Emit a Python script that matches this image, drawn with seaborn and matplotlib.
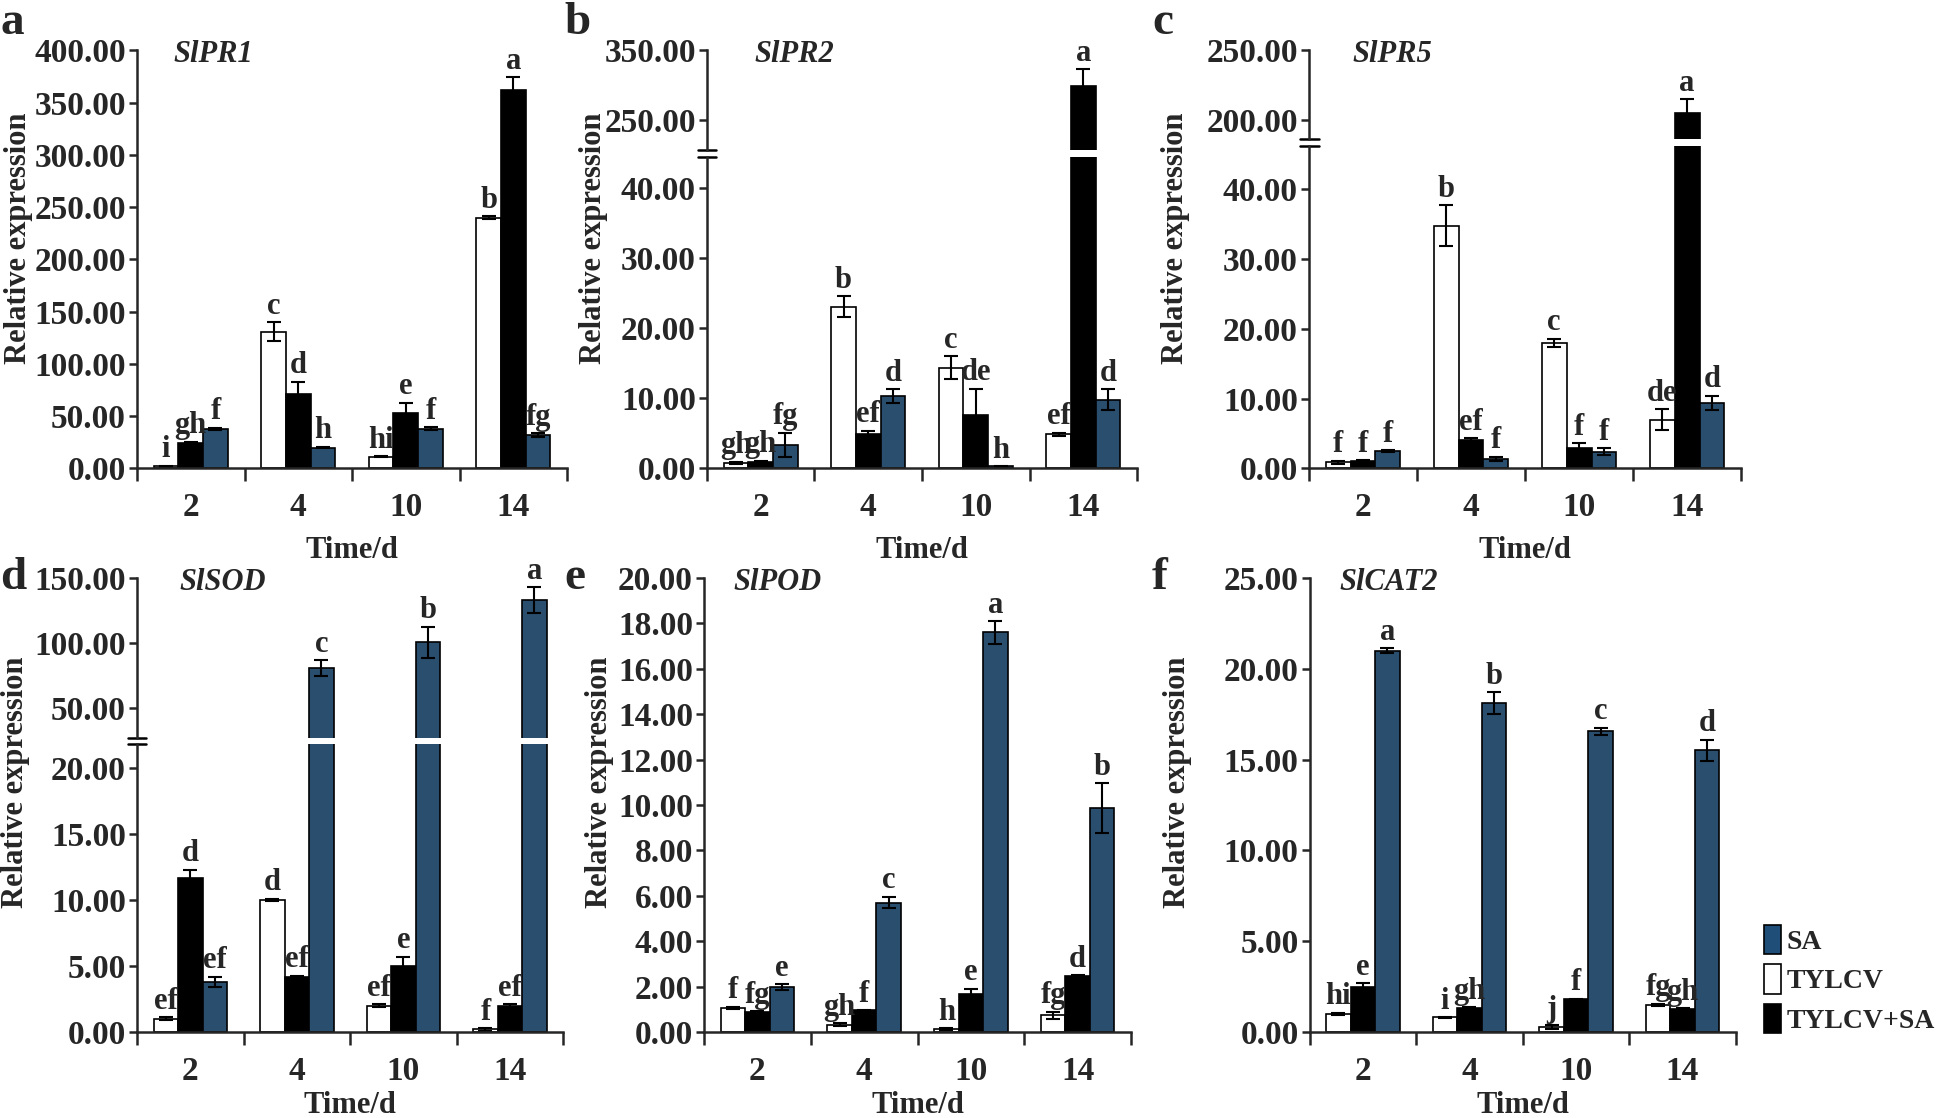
import numpy as np
import pandas as pd
import seaborn as sns
import matplotlib
matplotlib.use('Agg')
import matplotlib.pyplot as plt
from matplotlib.patches import Patch
from matplotlib.container import BarContainer

# groups and treatments
days = ['2', '4', '10', '14']
treatments = ['TYLCV', 'TYLCV+SA', 'SA']
colors = {'TYLCV': 'white', 'TYLCV+SA': 'black', 'SA': '#1F4E79'}

# values per gene: rows = TYLCV, TYLCV+SA, SA ; columns = days
pr1_mean = [[2.0, 131, 11, 240], [24, 71, 53, 362], [38, 20, 38, 32]]
pr1_err = [[0.5, 9, 0.5, 1.5], [1.5, 12, 10, 12], [1, 0.8, 1.2, 1.5]]
pr1_sig = [['i', 'c', 'hi', 'b'], ['gh', 'd', 'e', 'a'], ['f', 'h', 'f', 'fg']]

pr2_mean = [[0.8, 23.1, 14.4, 4.9], [0.9, 4.9, 7.6, 298], [3.4, 10.3, 0.3, 9.8]]
pr2_err = [[0.15, 1.5, 1.6, 0.2], [0.2, 0.5, 3.8, 25], [1.7, 1.0, 0.05, 1.5]]
pr2_sig = [['gh', 'b', 'c', 'ef'], ['gh', 'ef', 'de', 'a'], ['fg', 'd', 'h', 'd']]

pr5_mean = [[0.9, 34.8, 18.0, 7.0], [1.0, 4.1, 3.0, 205], [2.5, 1.4, 2.4, 9.4]]
pr5_err = [[0.2, 2.9, 0.6, 1.5], [0.2, 0.2, 0.6, 10], [0.1, 0.3, 0.5, 1.0]]
pr5_sig = [['f', 'b', 'c', 'de'], ['f', 'ef', 'f', 'a'], ['f', 'f', 'f', 'd']]

sod_mean = [[1.0, 10.0, 2.0, 0.2], [11.7, 4.2, 5.0, 2.0], [3.8, 80.5, 100.5, 133]]
sod_err = [[0.1, 0.1, 0.1, 0.1], [0.6, 0.05, 0.7, 0.1], [0.4, 6, 12, 10]]
sod_sig = [['ef', 'd', 'ef', 'f'], ['d', 'ef', 'e', 'ef'], ['ef', 'c', 'b', 'a']]

pod_mean = [[1.05, 0.32, 0.12, 0.74], [0.88, 0.95, 1.65, 2.45], [1.97, 5.7, 17.6, 9.85]]
pod_err = [[0.06, 0.06, 0.05, 0.15], [0.04, 0.02, 0.25, 0.05], [0.12, 0.25, 0.5, 1.1]]
pod_sig = [['f', 'gh', 'h', 'fg'], ['fg', 'f', 'e', 'd'], ['e', 'c', 'a', 'b']]

cat2_mean = [[1.0, 0.8, 0.28, 1.48], [2.5, 1.3, 1.8, 1.27], [21.0, 18.1, 16.55, 15.5]]
cat2_err = [[0.05, 0.02, 0.1, 0.08], [0.2, 0.07, 0.02, 0.02], [0.15, 0.6, 0.2, 0.6]]
cat2_sig = [['hi', 'i', 'j', 'fg'], ['e', 'gh', 'f', 'gh'], ['a', 'b', 'c', 'd']]

FONT = 'Liberation Serif'
FS_TICK = 24
FS_SIG = 22
FS_LAB = 22

sns.set_style('white')
plt.rcParams['font.family'] = [FONT, 'DejaVu Serif']
plt.rcParams['font.weight'] = 'bold'


def to_frame(mean):
    rows = []
    for t, vals in zip(treatments, mean):
        for d, v in zip(days, vals):
            rows.append({'Time/d': d, 'Treatment': t, 'Value': v})
    return pd.DataFrame(rows)


def style_axis(ax, ticks, show_x, xpad=8):
    for s in ['top', 'right']:
        ax.spines[s].set_visible(False)
    ax.spines['left'].set_linewidth(1.8)
    ax.spines['bottom'].set_linewidth(1.8)
    ax.set_yticks(ticks)
    ax.set_yticklabels(['%.2f' % t for t in ticks], fontsize=FS_TICK, fontweight='bold')
    ax.tick_params(axis='y', direction='out', length=6, width=1.8, left=True, pad=2)
    ax.set_xlim(-0.5, 3.5)
    ax.set_ylabel('')
    if show_x:
        ax.set_xticks([-0.5, 0.5, 1.5, 2.5, 3.5])
        ax.set_xticklabels([])
        ax.set_xticks(range(4), minor=True)
        ax.set_xticklabels(days, minor=True, fontsize=FS_TICK, fontweight='bold')
        ax.tick_params(axis='x', which='major', direction='out', length=9, width=1.8, bottom=True)
        ax.tick_params(axis='x', which='minor', length=0, pad=17)
        ax.set_xlabel('Time/d', fontsize=FS_LAB, fontweight='bold', labelpad=xpad)
    else:
        ax.spines['bottom'].set_visible(False)
        ax.set_xticks([])
        ax.set_xlabel('')


def draw_bars(ax, mean, err, sig, ylim, label_ok):
    sns.barplot(data=to_frame(mean), x='Time/d', y='Value', hue='Treatment',
                order=days, hue_order=treatments, palette=colors, width=0.69,
                edgecolor='black', linewidth=1.2, errorbar=None, legend=False, ax=ax)
    bars = [c for c in ax.containers if isinstance(c, BarContainer)]
    for i, cont in enumerate(bars):
        for j, bar in enumerate(cont):
            xc = bar.get_x() + bar.get_width() / 2
            m, e = mean[i][j], err[i][j]
            ax.errorbar(xc, m, yerr=e, fmt='none', ecolor='black', elinewidth=1.5,
                        capsize=5, capthick=1.5)
            top = m + e
            if label_ok(top):
                ax.annotate(sig[i][j], (xc, top), xytext=(0, 1), textcoords='offset points',
                            ha='center', va='bottom', fontsize=FS_SIG, fontweight='bold',
                            annotation_clip=False)
    ax.set_ylim(*ylim)


def simple_panel(rect, mean, err, sig, ylim, ticks, gene, letter, ylab_x, gx, xpad):
    ax = fig.add_axes(rect)
    draw_bars(ax, mean, err, sig, ylim, lambda t: True)
    style_axis(ax, ticks, True, xpad)
    ax.text(gx, 0.99, gene, transform=ax.transAxes, ha='left', va='center',
            fontsize=FS_LAB, fontweight='bold', style='italic')
    ax.set_ylabel('Relative expression', fontsize=FS_LAB, fontweight='bold')
    ax.yaxis.label.set_va('center')
    ax.yaxis.set_label_coords(ylab_x, 0.55)
    fig.text(letter[1], letter[2], letter[0], fontsize=34, fontweight='bold', va='top')
    return ax


def broken_panel(rect, frac_up, gap, mean, err, sig, ylim_lo, ylim_up, ticks_lo, ticks_up,
                 gene, letter, ylab_x, gx, xpad):
    left, bottom, width, height = rect
    h_up = height * frac_up
    h_lo = height - h_up - gap
    ax_lo = fig.add_axes([left, bottom, width, h_lo])
    ax_up = fig.add_axes([left, bottom + h_lo + gap, width, h_up])
    draw_bars(ax_lo, mean, err, sig, ylim_lo, lambda t: t <= ylim_lo[1])
    draw_bars(ax_up, mean, err, sig, ylim_up, lambda t: t > ylim_lo[1])
    style_axis(ax_lo, ticks_lo, True, xpad)
    style_axis(ax_up, ticks_up, False)
    # break marks on the y axis
    w = 0.022
    ax_lo.plot([-w, w], [1, 1], transform=ax_lo.transAxes, color='black', lw=1.8, clip_on=False)
    ax_up.plot([-w, w], [0, 0], transform=ax_up.transAxes, color='black', lw=1.8, clip_on=False)
    ax_up.text(gx, 1 - 0.01 * height / h_up, gene, transform=ax_up.transAxes, ha='left',
               va='center', fontsize=FS_LAB, fontweight='bold', style='italic')
    ax_lo.set_ylabel('Relative expression', fontsize=FS_LAB, fontweight='bold')
    ax_lo.yaxis.label.set_va('center')
    ax_lo.yaxis.set_label_coords(ylab_x, 0.55 * height / h_lo)
    fig.text(letter[1], letter[2], letter[0], fontsize=34, fontweight='bold', va='top')
    return ax_lo


fig = plt.figure(figsize=(19.46, 11.18), dpi=100)

row1_b, row1_h = 0.581, 0.374
row2_b, row2_h = 0.077, 0.406

simple_panel([0.0704, row1_b, 0.221, row1_h], pr1_mean, pr1_err, pr1_sig, (0, 400),
             np.arange(0, 401, 50), 'SlPR1', ('a', 0.0, 0.998), -0.275, 0.085, 9)
broken_panel([0.3633, row1_b, 0.221, row1_h], 0.239, 0.006, pr2_mean, pr2_err, pr2_sig,
             (0, 44.5), (206, 350), np.arange(0, 41, 10), [250, 350],
             'SlPR2', ('b', 0.29, 0.998), -0.265, 0.11, 9)
broken_panel([0.6727, row1_b, 0.222, row1_h], 0.213, 0.006, pr5_mean, pr5_err, pr5_sig,
             (0, 46.2), (186.5, 250), np.arange(0, 41, 10), [200, 250],
             'SlPR5', ('c', 0.592, 0.998), -0.31, 0.10, 9)
broken_panel([0.0704, row2_b, 0.219, row2_h], 0.352, 0.006, sod_mean, sod_err, sod_sig,
             (0, 21.8), (27, 150), np.arange(0, 21, 5), [50, 100, 150],
             'SlSOD', ('d', 0.0, 0.502), -0.285, 0.10, 3)
simple_panel([0.3618, row2_b, 0.2194, row2_h], pod_mean, pod_err, pod_sig, (0, 20),
             np.arange(0, 21, 2), 'SlPOD', ('e', 0.29, 0.502), -0.245, 0.07, 3)
ax_f = simple_panel([0.673, row2_b, 0.219, row2_h], cat2_mean, cat2_err, cat2_sig, (0, 25),
                    np.arange(0, 26, 5), 'SlCAT2', ('f', 0.592, 0.502), -0.31, 0.07, 3)

handles = [Patch(facecolor=colors[t], edgecolor='black', linewidth=1.2, label=t)
           for t in ['SA', 'TYLCV', 'TYLCV+SA']]
fig.legend(handles=handles, loc='center left', bbox_to_anchor=(0.901, 0.124), frameon=False,
           prop={'family': FONT, 'weight': 'bold', 'size': 20}, handlelength=0.6,
           handleheight=1.25, handletextpad=0.2, labelspacing=0.35, borderaxespad=0)

plt.savefig('out.png', dpi=100)
plt.close()
